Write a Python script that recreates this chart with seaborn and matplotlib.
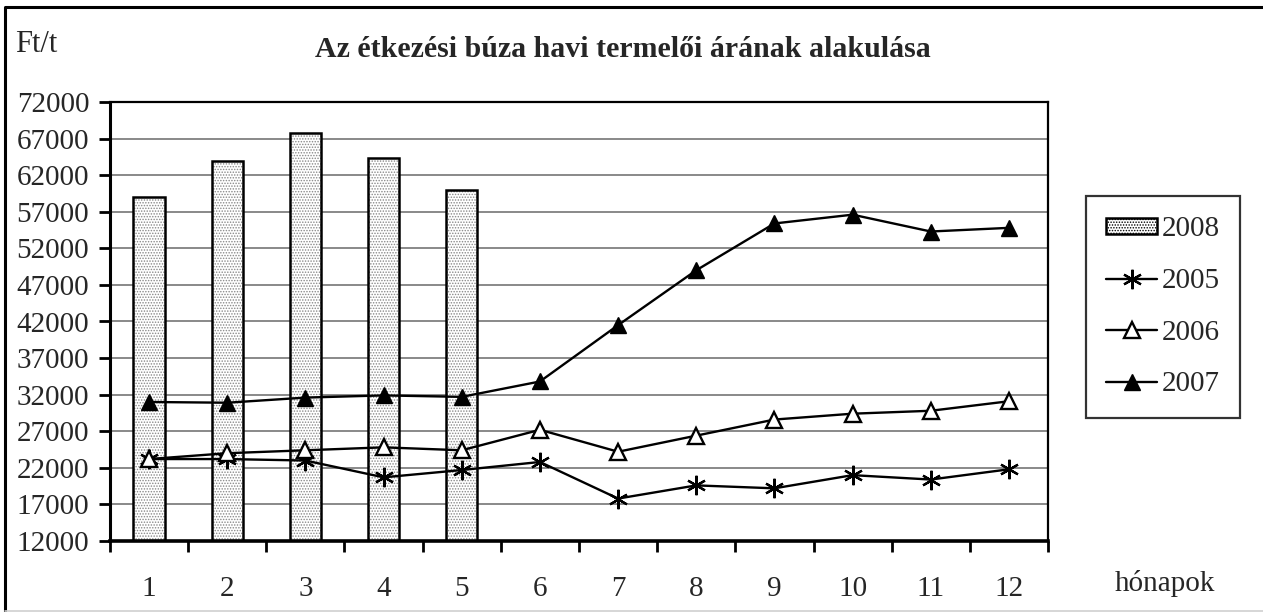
import numpy as np
import pandas as pd
import matplotlib
matplotlib.use("Agg")
import matplotlib.pyplot as plt
import seaborn as sns
from matplotlib.lines import Line2D
from matplotlib.patches import Patch

# adatok (Ft/t)
honapok = [str(i) for i in range(1, 13)]
honapok_2008 = honapok[:5]
ar_2008 = [59000, 64000, 67700, 64300, 60000]
ar_2005 = [23200, 23200, 23000, 20700, 21700, 22800, 17800, 19600, 19200, 21000, 20400, 21800]
ar_2006 = [23200, 24000, 24400, 24800, 24400, 27200, 24200, 26400, 28600, 29400, 29800, 31100]
ar_2007 = [31000, 30900, 31600, 31900, 31700, 33800, 41500, 49000, 55400, 56600, 54300, 54800]
y_ticks = list(range(12000, 72001, 5000))

cim = "Az étkezési búza havi termelői árának alakulása"

sns.set_style("ticks")
plt.rcParams['font.family'] = ['Liberation Serif', 'DejaVu Serif']
plt.rcParams['hatch.linewidth'] = 0.7

W, H = 1263, 612
fig = plt.figure(figsize=(W / 100, H / 100), dpi=100)
ax = fig.add_axes([110 / W, 1 - 541 / H, (1048 - 110) / W, (541 - 102) / H])

df08 = pd.DataFrame({'honap': honapok_2008, 'ar': ar_2008})
# pontozott kitöltés (szürke) és fekete keret külön rétegben
sns.barplot(data=df08, x='honap', y='ar', order=honapok, width=0.4,
            color='white', edgecolor='#888888', hatch='......', linewidth=0,
            errorbar=None, ax=ax, zorder=2)
sns.barplot(data=df08, x='honap', y='ar', order=honapok, width=0.4,
            fill=False, edgecolor='black', linewidth=1.8,
            errorbar=None, ax=ax, zorder=3)

sorok = [
    (ar_2005, dict(marker=(6, 2, 0), markersize=14, markeredgewidth=1.6,
                   markerfacecolor='black', markeredgecolor='black')),
    (ar_2006, dict(marker='^', markersize=12, markeredgewidth=1.7,
                   markerfacecolor='white', markeredgecolor='black')),
    (ar_2007, dict(marker='^', markersize=12, markeredgewidth=1.0,
                   markerfacecolor='black', markeredgecolor='black')),
]
for ertekek, stilus in sorok:
    d = pd.DataFrame({'honap': honapok, 'ar': ertekek})
    sns.pointplot(data=d, x='honap', y='ar', order=honapok, color='black',
                  errorbar=None, linewidth=1.7, ax=ax, zorder=5, **stilus)

ax.set_ylim(12000, 72000)
ax.set_xlim(-0.5, 11.5)
ax.set_yticks(y_ticks)
ax.yaxis.grid(True, color='#808080', linewidth=1.3, zorder=0)
ax.set_axisbelow(True)
ax.set_xlabel('')
ax.set_ylabel('')

ax.set_xticks(np.arange(-0.5, 12, 1))
ax.set_xticklabels([])
ax.set_xticks(np.arange(0, 12), minor=True)
ax.set_xticklabels(honapok, minor=True)
ax.tick_params(axis='x', which='major', length=8, width=2, direction='out', color='black')
ax.tick_params(axis='x', which='minor', length=0, pad=25, labelsize=21)
ax.tick_params(axis='y', length=8, width=2, direction='out', color='black', pad=7, labelsize=21)

for sp in ax.spines.values():
    sp.set_color('black')
    sp.set_linewidth(1.6)
ax.spines['left'].set_linewidth(2.2)
ax.spines['bottom'].set_linewidth(2.6)

fig.text(15 / W, 1 - 52 / H, "Ft/t", fontsize=22, ha='left', va='baseline')
fig.text(623 / W, 1 - 57 / H, cim, fontsize=21.5, fontweight='bold', ha='center', va='baseline')
fig.text(1115 / W, 1 - 591 / H, "hónapok", fontsize=21, ha='left', va='baseline')

handles = [
    Patch(facecolor='white', edgecolor='black', hatch='......', linewidth=1.8),
    Line2D([], [], color='black', linewidth=1.7, **sorok[0][1]),
    Line2D([], [], color='black', linewidth=1.7, **sorok[1][1]),
    Line2D([], [], color='black', linewidth=1.7, **sorok[2][1]),
]
leg = fig.legend(handles, ['2008', '2005', '2006', '2007'], loc='upper left',
                 bbox_to_anchor=(1086 / W, 1 - 196 / H), fontsize=21,
                 frameon=True, fancybox=False, edgecolor='black',
                 handlelength=1.75, handleheight=0.5, handletextpad=0.15,
                 labelspacing=0.88, borderpad=0.7, borderaxespad=0)
leg.get_frame().set_linewidth(1.6)

# külső keret: bal és felső fekete, alsó halványszürke
fig.add_artist(Line2D([5 / W, 5 / W, 1], [0, 1 - 7 / H, 1 - 7 / H], transform=fig.transFigure,
                      color='black', linewidth=2.2))
fig.add_artist(Line2D([5 / W, 1], [1 / H, 1 / H], transform=fig.transFigure,
                      color='#d0d0d0', linewidth=1.2))

fig.savefig("out.png", dpi=100)
